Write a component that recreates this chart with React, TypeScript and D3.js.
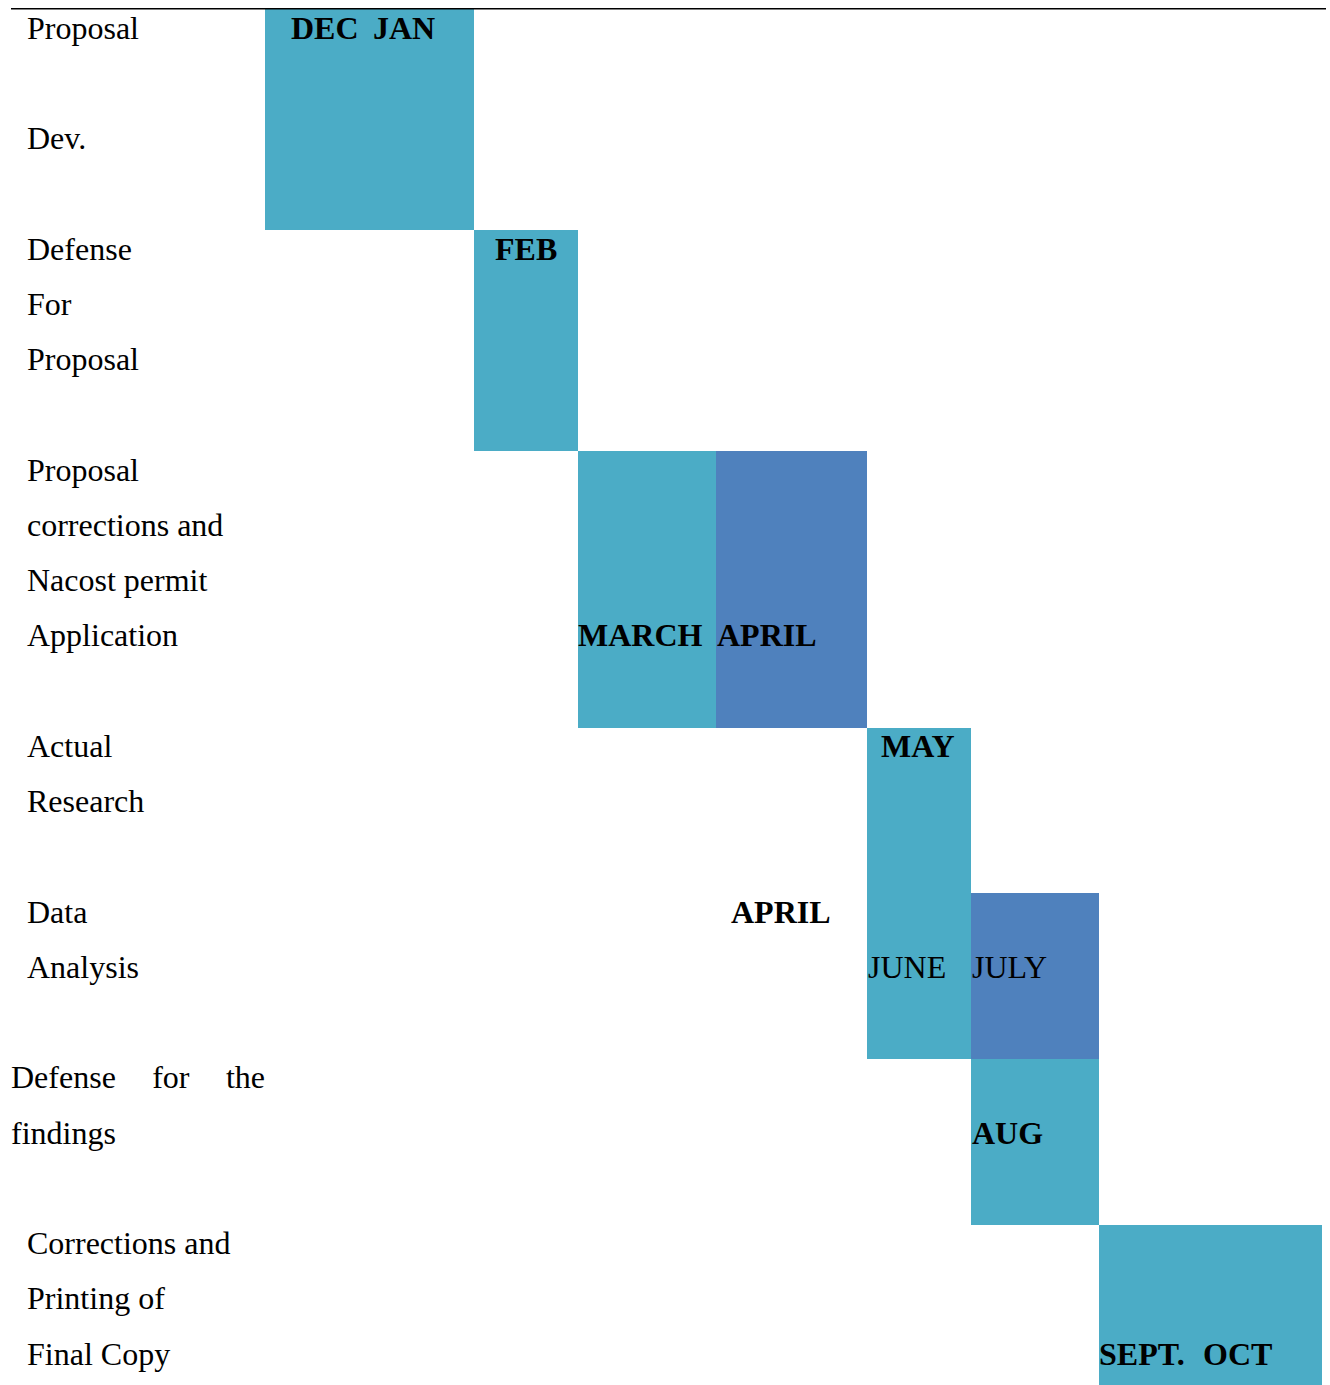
import React, { useEffect, useRef } from "react";
import * as d3 from "d3";

// ---------- data ----------
// Task labels: each line of text with the text-line index it sits on
const taskLines: { text: string; line: number; justify?: boolean }[] = [
  { text: "Proposal", line: 0 },
  { text: "Dev.", line: 2 },
  { text: "Defense", line: 4 },
  { text: "For", line: 5 },
  { text: "Proposal", line: 6 },
  { text: "Proposal", line: 8 },
  { text: "corrections and", line: 9 },
  { text: "Nacost permit", line: 10 },
  { text: "Application", line: 11 },
  { text: "Actual", line: 13 },
  { text: "Research", line: 14 },
  { text: "Data", line: 16 },
  { text: "Analysis", line: 17 },
  { text: "Defense for the", line: 19, justify: true },
  { text: "findings", line: 20, justify: true },
  { text: "Corrections and", line: 22 },
  { text: "Printing of", line: 23 },
  { text: "Final Copy", line: 24 },
];

// Gantt blocks: column span (period columns) and line span
const blocks: { c0: number; c1: number; l0: number; l1: number; tone: string }[] = [
  { c0: 0, c1: 1, l0: 0, l1: 4, tone: "a" },
  { c0: 1, c1: 2, l0: 4, l1: 8, tone: "a" },
  { c0: 2, c1: 3, l0: 8, l1: 13, tone: "a" },
  { c0: 3, c1: 4, l0: 8, l1: 13, tone: "b" },
  { c0: 4, c1: 5, l0: 13, l1: 19, tone: "a" },
  { c0: 5, c1: 6, l0: 16, l1: 19, tone: "b" },
  { c0: 5, c1: 6, l0: 19, l1: 22, tone: "a" },
  { c0: 6, c1: 7, l0: 22, l1: 25, tone: "a" },
];

// Month labels: text, column, text line, weight
const monthLabels: { text: string; col: number; line: number; bold: boolean; key: string }[] = [
  { key: "dec", text: "DEC", col: 0, line: 0, bold: true },
  { key: "jan", text: "JAN", col: 0, line: 0, bold: true },
  { key: "feb", text: "FEB", col: 1, line: 4, bold: true },
  { key: "mar", text: "MARCH", col: 2, line: 11, bold: true },
  { key: "apr", text: "APRIL", col: 3, line: 11, bold: true },
  { key: "may", text: "MAY", col: 4, line: 13, bold: true },
  { key: "apr2", text: "APRIL", col: 3, line: 16, bold: true },
  { key: "jun", text: "JUNE", col: 4, line: 17, bold: false },
  { key: "jul", text: "JULY", col: 5, line: 17, bold: false },
  { key: "aug", text: "AUG", col: 5, line: 20, bold: true },
  { key: "sep", text: "SEPT.", col: 6, line: 24, bold: true },
  { key: "oct", text: "OCT", col: 6, line: 24, bold: true },
];

// ---------- layout / style ----------
const W = 1330;
const H = 1385;
const colEdges = [265, 474, 578, 716, 867, 971, 1099, 1322];
const lineTop0 = 9.3;
const lineStep = 55.25;
const baselineOffset = 29.2;
const labelX = 27;
const justifyX0 = 11;
const justifyX1 = 265;
const labelIndent: Record<string, number> = {
  dec: 26, jan: 108, feb: 21, mar: 0, apr: 1, may: 14, apr2: 15,
  jun: 1, jul: 1, aug: 1, sep: 0, oct: 104,
};
const tones: Record<string, string> = { a: "#4BACC6", b: "#4F81BD" };
const FONT = "'Liberation Serif', 'Times New Roman', serif";
const FS = 32;

export default function App() {
  const ref = useRef<SVGSVGElement | null>(null);

  useEffect(() => {
    const svg = d3.select(ref.current);
    svg.selectAll("*").remove();

    const x = d3.scaleLinear().domain(d3.range(colEdges.length)).range(colEdges);
    const y = d3.scaleLinear().domain([0, 25]).range([lineTop0, lineTop0 + 25 * lineStep]);

    svg
      .append("g")
      .selectAll("rect")
      .data(blocks)
      .join("rect")
      .attr("x", (d) => x(d.c0))
      .attr("y", (d) => y(d.l0))
      .attr("width", (d) => x(d.c1) - x(d.c0))
      .attr("height", (d) => y(d.l1) - y(d.l0))
      .attr("fill", (d) => tones[d.tone])
      .attr("shape-rendering", "crispEdges");

    svg
      .append("line")
      .attr("x1", justifyX0)
      .attr("x2", 1326)
      .attr("y1", 8.7)
      .attr("y2", 8.7)
      .attr("stroke", "#000")
      .attr("stroke-width", 1.6);

    const tg = svg.append("g").attr("font-family", FONT).attr("font-size", FS).attr("fill", "#000");

    taskLines.forEach((t) => {
      const by = y(t.line) + baselineOffset;
      if (t.justify) {
        const words = t.text.split(" ");
        const nodes = words.map((w) =>
          tg.append("text").attr("y", by).text(w)
        );
        const widths = nodes.map((n) => (n.node() as SVGTextElement).getComputedTextLength());
        if (words.length > 1 && t.text !== "findings") {
          const gap = (justifyX1 - justifyX0 - d3.sum(widths)) / (words.length - 1);
          let cx = justifyX0;
          nodes.forEach((n, i) => {
            n.attr("x", cx);
            cx += widths[i] + gap;
          });
        } else {
          nodes[0].attr("x", justifyX0);
        }
      } else {
        tg.append("text").attr("x", labelX).attr("y", by).text(t.text);
      }
    });

    tg.selectAll("text.m")
      .data(monthLabels)
      .join("text")
      .attr("class", "m")
      .attr("x", (d) => x(d.col) + labelIndent[d.key])
      .attr("y", (d) => y(d.line) + baselineOffset)
      .attr("font-weight", (d) => (d.bold ? "bold" : "normal"))
      .text((d) => d.text);
  }, []);

  return (
    <svg
      ref={ref}
      width={W}
      height={H}
      style={{ position: "absolute", left: 0, top: 0, background: "#fff" }}
    />
  );
}
